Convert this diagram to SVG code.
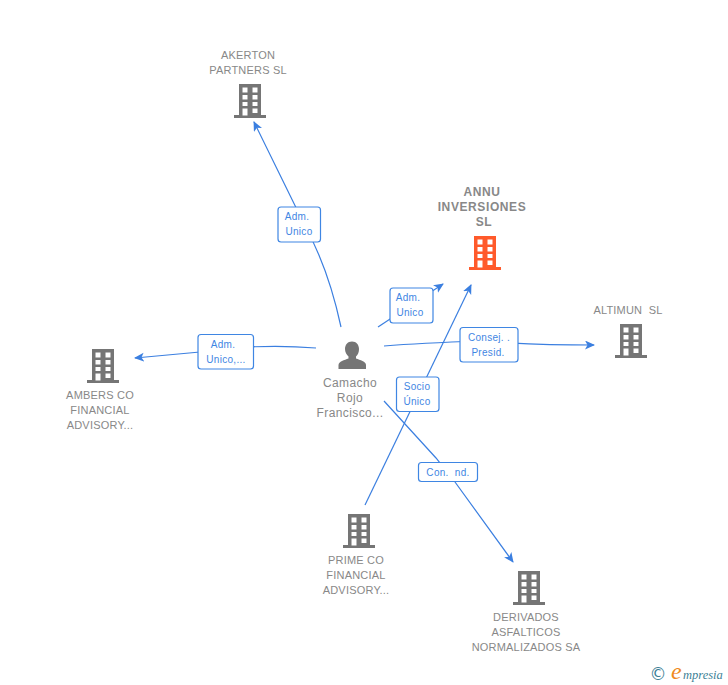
<svg xmlns="http://www.w3.org/2000/svg" width="728" height="685" viewBox="0 0 728 685">
<style>
.c{fill:none;stroke:#3b7fe0;stroke-width:1.2}
.b{fill:#fff;stroke:#3f86e3;stroke-width:1.2}
.l{font-family:"Liberation Sans",Arial,sans-serif;font-size:10px;fill:#3f86e3;text-anchor:middle;letter-spacing:.3px}
.t{font-family:"Liberation Sans",Arial,sans-serif;font-size:11px;fill:#888;text-anchor:middle;letter-spacing:.2px}
.p{font-size:12px;letter-spacing:.4px}
.a{font-weight:bold;font-size:12px;letter-spacing:.6px}
.n{fill:#757575;fill-rule:evenodd}
.o{fill:#ff5a2b;fill-rule:evenodd}
.g{font-family:"Liberation Serif",serif;font-style:italic}
</style>
<defs>
<marker id="h" markerWidth="12" markerHeight="10" refX="9" refY="4.500" orient="auto" markerUnits="userSpaceOnUse"><path d="M0 0L10 4.500L0 9L2.500 4.500Z" fill="#3b7fe0"/></marker>
<path id="bld" d="M-11 0H11V31H16V34H-16V31H-11ZM-7.500 3.500V8.500H-2.500V3.500ZM2.500 3.500V8.500H7.500V3.500ZM-7.500 11V15.500H-2.500V11ZM2.500 11V15.500H7.500V11ZM-7.500 18V22H-2.500V18ZM2.500 18V22H7.500V18ZM-7.500 24.500V31.500H-2.500V24.500ZM2.500 24.500V29H7.500V24.500Z"/>
</defs>
<g id="connectors">
<path class="c" marker-end="url(#h)" d="M341 327C332 285 318 250 306 228L254 122"/>
<path class="c" marker-end="url(#h)" d="M378 327L443 284"/>
<path class="c" marker-end="url(#h)" d="M316 348C280 345 240 346 200 352L135 358"/>
<path class="c" marker-end="url(#h)" d="M384 346C420 343 450 342 480 341C520 344 560 345 594 345"/>
<path class="c" marker-end="url(#h)" d="M365 505L471 285"/>
<path class="c" marker-end="url(#h)" d="M384 401L436 458L455 482L513 562"/>
</g>
<g id="edge-labels">
<g><rect class="b" x="278" y="207" width="42.500" height="35" rx="3"/><text class="l" x="297" y="220">Adm.</text><text class="l" x="299" y="235">Unico</text></g>
<g><rect class="b" x="390" y="288" width="43" height="35" rx="3"/><text class="l" x="408" y="301">Adm.</text><text class="l" x="410" y="316">Unico</text></g>
<g><rect class="b" x="198" y="334.500" width="55.500" height="34.500" rx="3"/><text class="l" x="223" y="348">Adm.</text><text class="l" x="226" y="363">Unico,...</text></g>
<g><rect class="b" x="460" y="327.500" width="58" height="34.500" rx="3"/><text class="l" x="489" y="341">Consej. .</text><text class="l" x="488" y="356">Presid.</text></g>
<g><rect class="b" x="396.500" y="377" width="42.500" height="34.500" rx="3"/><text class="l" x="417" y="390">Socio</text><text class="l" x="417" y="405">Único</text></g>
<g><rect class="b" x="418.500" y="462.500" width="59" height="19" rx="3"/><text class="l" x="448" y="476" xml:space="preserve">Con.  nd.</text></g>
</g>
<g id="akerton"><use href="#bld" class="n" x="250" y="84"/><text class="t" x="248" y="59">AKERTON</text><text class="t" x="248" y="74">PARTNERS SL</text></g>
<g id="annu"><use href="#bld" class="o" x="485" y="236"/><text class="t a" x="482" y="196">ANNU</text><text class="t a" x="482" y="211">INVERSIONES</text><text class="t a" x="484" y="226">SL</text></g>
<g id="altimun"><use href="#bld" class="n" x="631" y="324"/><text class="t" x="628" y="314" xml:space="preserve">ALTIMUN  SL</text></g>
<g id="ambers"><use href="#bld" class="n" x="103" y="349"/><text class="t" x="100" y="399">AMBERS CO</text><text class="t" x="100" y="414">FINANCIAL</text><text class="t" x="100" y="429">ADVISORY...</text></g>
<g id="prime"><use href="#bld" class="n" x="359" y="514"/><text class="t" x="356" y="564">PRIME CO</text><text class="t" x="356" y="579">FINANCIAL</text><text class="t" x="356" y="594">ADVISORY...</text></g>
<g id="derivados"><use href="#bld" class="n" x="529" y="571"/><text class="t" x="526" y="621">DERIVADOS</text><text class="t" x="526" y="636">ASFALTICOS</text><text class="t" x="526" y="651">NORMALIZADOS SA</text></g>
<g id="camacho"><path class="n" d="M352 341.500C356.500 341.500 359 345 359 349C359 352 358 354.500 356 356.500V358.500C360 360 366 361.500 366 365V369H338.500V365C338.500 361.500 344.500 360 348.500 358.500V356.500C346.500 354.500 345 352 345 349C345 345 347.500 341.500 352 341.500Z"/><text class="t p" x="350" y="387">Camacho</text><text class="t p" x="350" y="402">Rojo</text><text class="t p" x="350" y="417">Francisco...</text></g>
<g id="logo"><text x="649.500" y="680" style="font-family:'DejaVu Sans',sans-serif;font-size:17px;fill:#3d7f96">©</text><text class="g" x="671" y="679" style="font-size:24px;fill:#f08a1d">e</text><text class="g" x="683" y="679" style="font-size:12.500px;fill:#3d7f96">mpresia</text></g>
</svg>
